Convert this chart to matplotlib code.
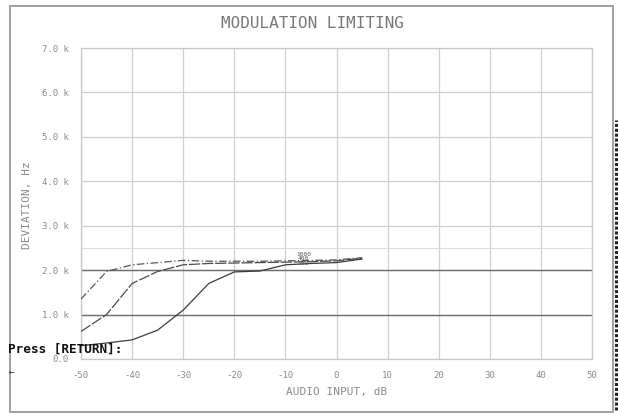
import numpy as np
import matplotlib
matplotlib.use("Agg")
import matplotlib.pyplot as plt
from matplotlib.lines import Line2D
from matplotlib.patches import Rectangle

# audio input level (dB) and measured deviation (kHz) for three test tones
audio_db = [-50, -45, -40, -35, -30, -25, -20, -15, -10, -5, 0, 5]
dev_1000 = [1.35, 1.97, 2.12, 2.17, 2.22, 2.20, 2.20, 2.20, 2.21, 2.22, 2.23, 2.28]
dev_400 = [0.62, 1.00, 1.70, 1.97, 2.12, 2.15, 2.16, 2.17, 2.18, 2.19, 2.21, 2.27]
dev_100 = [0.30, 0.36, 0.43, 0.65, 1.10, 1.70, 1.96, 1.98, 2.12, 2.15, 2.17, 2.25]
curve_names = ["1000", "400", "100"]

x_ticks = list(range(-50, 51, 10))
y_ticks = [0, 1, 2, 3, 4, 5, 6, 7]
y_ticklabels = ["0.0", "1.0 k", "2.0 k", "3.0 k", "4.0 k", "5.0 k", "6.0 k", "7.0 k"]

mono = "DejaVu Sans Mono"
W, H = 618, 418
fig = plt.figure(figsize=(W / 100, H / 100), dpi=100)
fig.patch.set_facecolor("white")

# outer frame of the instrument screen
fig.patches.append(Rectangle((10 / W, 1 - 412 / H), 603 / W, 406 / H,
                             transform=fig.transFigure, fill=False,
                             edgecolor="#a0a0a0", linewidth=1.4))
# dark dotted edge on the right border
fig.lines.append(Line2D([615.5 / W, 615.5 / W], [1 - 410 / H, 1 - 120 / H],
                        transform=fig.transFigure, color="#222222",
                        linewidth=2.2, linestyle=(0, (1, 0.6))))

ax = fig.add_axes([81 / W, 1 - 359 / H, 511 / W, 311 / H])
ax.set_xlim(-50, 50)
ax.set_ylim(0, 7)

# grid: light lines everywhere, darker reference lines at 1k and 2k
for xv in x_ticks:
    ax.axvline(xv, color="#cfcfcf", linewidth=0.9, zorder=0)
for yv in y_ticks:
    ax.axhline(yv, color="#cfcfcf", linewidth=0.9, zorder=0)
ax.axhline(2.5, color="#dcdcdc", linewidth=0.8, zorder=0)
for yv in (1, 2):
    ax.axhline(yv, color="#6e6e6e", linewidth=1.0, zorder=1)

for s in ax.spines.values():
    s.set_color("#c8c8c8")
    s.set_linewidth(0.9)

ax.plot(audio_db, dev_1000, color="#555555", linewidth=0.9,
        linestyle=(0, (6, 2, 1, 2)), zorder=3)
ax.plot(audio_db, dev_400, color="#4a4a4a", linewidth=0.9,
        linestyle=(0, (9, 1.5)), zorder=3)
ax.plot(audio_db, dev_100, color="#3c3c3c", linewidth=0.9, zorder=3)

# curve names stacked near the end of the traces
for i, name in enumerate(curve_names):
    ax.text(-6.5, 2.36 - i * 0.1, name, fontsize=4.5, family=mono,
            color="#555555", ha="center", va="center", zorder=4)

ax.set_xticks(x_ticks)
ax.set_xticklabels([str(v) for v in x_ticks], family=mono, fontsize=6.5,
                   color="#8a8a8a")
ax.set_yticks(y_ticks)
ax.set_yticklabels(y_ticklabels, family=mono, fontsize=6.5, color="#8a8a8a")
ax.tick_params(length=0, pad=9)

fig.text(312 / W, 1 - 24 / H, "MODULATION LIMITING", family=mono,
         fontsize=11.5, color="#777777", ha="center", va="center")
fig.text(337 / W, 1 - 392 / H, "AUDIO INPUT, dB", family=mono,
         fontsize=8, color="#8a8a8a", ha="center", va="center")
fig.text(27 / W, 1 - 205 / H, "DEVIATION, Hz", family=mono, fontsize=8,
         color="#8a8a8a", ha="center", va="center", rotation=90)

# prompt left on the screen
fig.text(8 / W, 1 - 349 / H, "Press [RETURN]:", family=mono, fontsize=9.2,
         fontweight="bold", color="#111111", ha="left", va="center")
fig.text(12 / W, 1 - 372 / H, "\u2190", family=mono, fontsize=7,
         color="#333333", ha="center", va="center")

fig.savefig("out.png", dpi=100)
